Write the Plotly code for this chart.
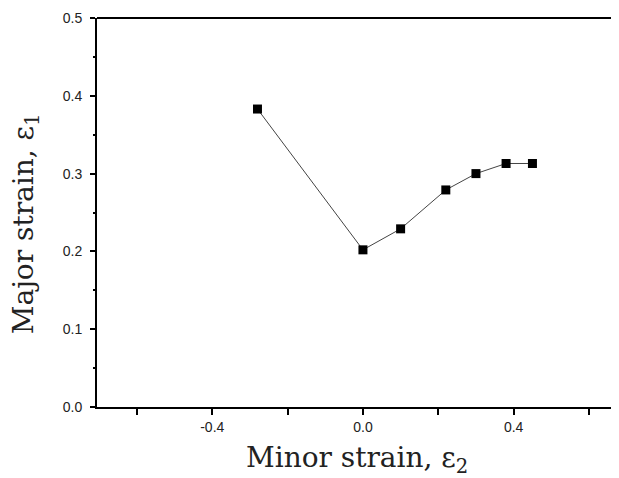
import plotly.graph_objects as go

minor_strain = [-0.28, 0.0, 0.10, 0.22, 0.30, 0.38, 0.45]
major_strain = [0.383, 0.202, 0.229, 0.279, 0.300, 0.313, 0.313]

x_tickvals = [-0.4, 0.0, 0.4]
x_ticktext = ["-0.4", "0.0", "0.4"]
x_minor_tickvals = [-0.6, -0.2, 0.2, 0.6]
y_tickvals = [0.0, 0.1, 0.2, 0.3, 0.4, 0.5]
y_ticktext = ["0.0", "0.1", "0.2", "0.3", "0.4", "0.5"]

title_font = dict(family="DejaVu Serif", size=28, color="#222222")

fig = go.Figure()
fig.add_trace(go.Scatter(
    x=minor_strain, y=major_strain, mode="lines+markers",
    line=dict(color="#444444", width=1),
    marker=dict(symbol="square", size=9, color="black"),
    showlegend=False,
))

fig.update_layout(
    width=619, height=478,
    margin=dict(l=89, r=0, t=10, b=79),
    paper_bgcolor="white", plot_bgcolor="white",
    font=dict(family="Liberation Sans, Arial", size=14, color="#222222"),
    xaxis=dict(
        range=[-0.706, 0.701], showgrid=False, zeroline=False, automargin=False,
        showline=True, linecolor="black", linewidth=2,
        ticks="outside", ticklen=6, tickwidth=1.5, tickcolor="black",
        tickvals=x_tickvals, ticktext=x_ticktext,
        minor=dict(tickvals=x_minor_tickvals, ticks="outside", ticklen=6,
                   tickcolor="black", tickwidth=1.5, showgrid=False),
    ),
    yaxis=dict(
        range=[0, 0.5], showgrid=False, zeroline=False, automargin=False,
        showline=True, linecolor="black", linewidth=2,
        ticks="outside", ticklen=5, tickwidth=1.5, tickcolor="black",
        ticklabelstandoff=5,
        tickvals=y_tickvals, ticktext=y_ticktext,
        minor=dict(dtick=0.05, ticks="outside", ticklen=2, tickcolor="black",
                   tickwidth=1.5, showgrid=False),
    ),
    shapes=[dict(type="line", xref="paper", yref="paper", x0=0, x1=1, y0=1, y1=1,
                 line=dict(color="black", width=2))],
    annotations=[
        dict(text="Minor strain, ε<sub>2</sub>", xref="paper", yref="paper",
             x=0.4915, y=0, yshift=-52, xanchor="center", yanchor="middle",
             showarrow=False, font=title_font),
        dict(text="Major strain, ε<sub>1</sub>", xref="paper", yref="paper",
             x=0, xshift=-72, y=0.47, xanchor="center", yanchor="middle",
             textangle=-90, showarrow=False, font=title_font),
    ],
)

fig.write_html("out.html")
